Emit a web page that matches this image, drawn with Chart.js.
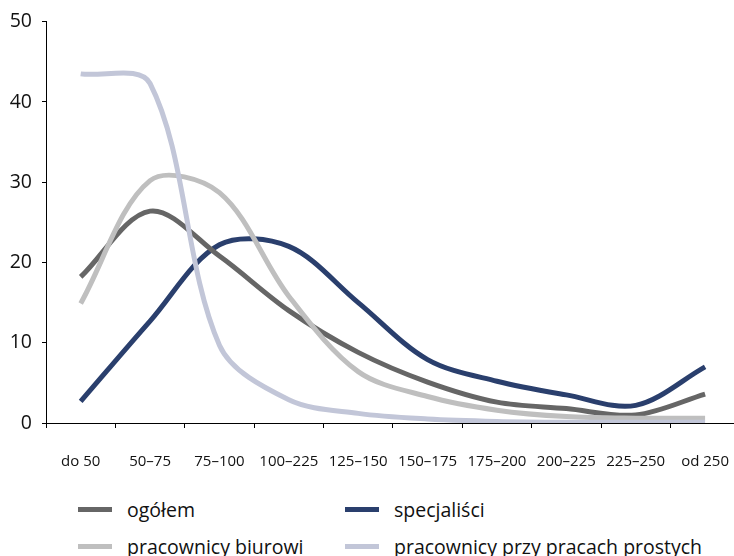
<!DOCTYPE html>
<html lang="pl">
<head>
    <meta charset="utf-8">
    <title>Wykres</title>
    <script src="https://cdn.jsdelivr.net/npm/chart.js"></script>
    <style>
        body { margin: 0; overflow: hidden; background: #fff; font-family: "Open Sans", sans-serif; }
        #chart { position: absolute; left: 0; top: 0; }
        .leg { position: absolute; display: flex; align-items: center; font-size: 19.5px; color: #111; white-space: nowrap; }
        .leg span.swatch { display: inline-block; width: 34px; height: 5px; margin-right: 15px; }
    </style>
</head>
<body>
    <canvas id="chart" width="754" height="480"></canvas>
    <div id="legend"></div>

    <script>
        var categories = ['do 50', '50–75', '75–100', '100–225', '125–150', '150–175', '175–200', '200–225', '225–250', 'od 250'];
        var seriesNames = ['ogółem', 'specjaliści', 'pracownicy biurowi', 'pracownicy przy pracach prostych'];
        var ogolem = [18.2, 26.4, 20.8, 14.0, 8.8, 5.1, 2.6, 1.8, 1.0, 3.6];
        var specjalisci = [2.7, 12.7, 22.2, 22.0, 15.0, 7.9, 5.2, 3.5, 2.2, 7.0];
        var biurowi = [14.9, 30.2, 28.7, 15.8, 6.4, 3.3, 1.6, 0.8, 0.6, 0.6];
        var proste = [43.5, 42.3, 9.7, 2.9, 1.2, 0.5, 0.2, 0.1, 0.1, 0.1];
        var colors = ['#666666', '#2a3f6d', '#bfbfbf', '#c2c6d8'];

        var values = [ogolem, specjalisci, biurowi, proste];
        // draw order: light lines first, dark ones on top
        var order = [3, 2, 0, 1];

        var datasets = order.map(function(i) {
            return {
                label: seriesNames[i],
                data: values[i],
                borderColor: colors[i],
                backgroundColor: colors[i],
                borderWidth: 5,
                pointRadius: 0,
                tension: 0.33,
                fill: false
            };
        });

        var ctx = document.getElementById('chart').getContext('2d');
        var chart = new Chart(ctx, {
            type: 'line',
            data: { labels: categories, datasets: datasets },
            options: {
                responsive: false,
                animation: false,
                layout: { padding: { top: 21, right: 0, bottom: 10, left: 0 } },
                plugins: { legend: { display: false }, tooltip: { enabled: false } },
                scales: {
                    x: {
                        type: 'category',
                        offset: true,
                        grid: { offset: true, drawOnChartArea: false, drawTicks: true, tickLength: 5, color: '#000' },
                        border: { display: true, color: '#000', width: 1 },
                        ticks: { color: '#111', font: { family: 'Open Sans', size: 15 }, padding: 25, maxRotation: 0, autoSkip: false },
                        afterFit: function(scale) { scale.height = 47; }
                    },
                    y: {
                        min: 0,
                        max: 50,
                        grid: { drawOnChartArea: false, drawTicks: true, tickLength: 4, color: '#000' },
                        border: { display: true, color: '#000', width: 1 },
                        ticks: { stepSize: 10, color: '#111', font: { family: 'Open Sans', size: 19.5 }, padding: 10 },
                        afterFit: function(scale) { scale.width = 46; }
                    }
                }
            }
        });

        // legend in two columns, like the original
        var legCols = [78, 345];
        var legRows = [509, 546];
        var legend = document.getElementById('legend');
        seriesNames.forEach(function(name, i) {
            var item = document.createElement('div');
            item.className = 'leg';
            item.style.left = legCols[i % 2] + 'px';
            item.style.top = (legRows[Math.floor(i / 2)] - 13) + 'px';
            item.style.height = '26px';
            item.innerHTML = '<span class="swatch" style="background:' + colors[i] + '"></span>' + name;
            legend.appendChild(item);
        });
    </script>
</body>
</html>
